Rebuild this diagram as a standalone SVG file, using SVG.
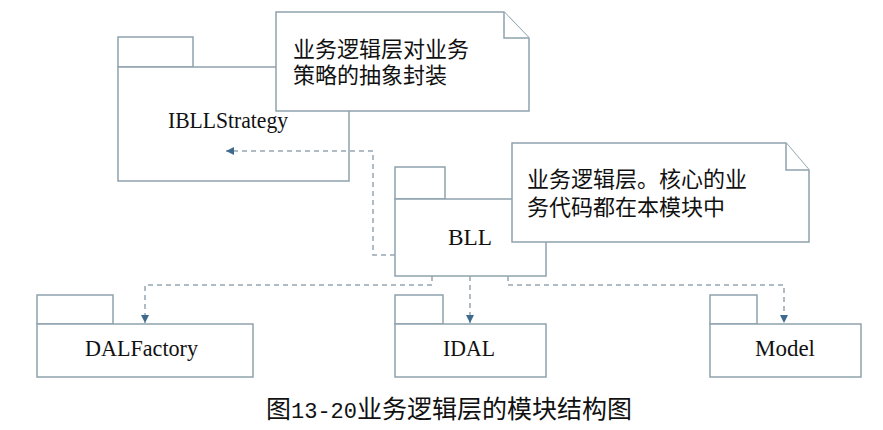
<svg xmlns="http://www.w3.org/2000/svg" width="883" height="430" viewBox="0 0 883 430">
<style>
.pk{fill:#ffffff;stroke:#8fa3ad;stroke-width:1.5}
.nt{fill:#ffffff;stroke:#8fa3ad;stroke-width:1.5}
.cn{fill:none;stroke:#97a6b2;stroke-width:1.5;stroke-dasharray:5 4}
.lb{font-family:"Liberation Serif","Times New Roman",serif;font-size:24px;fill:#111}
.zh{font-family:"Liberation Serif","Noto Sans CJK SC",sans-serif;font-size:22px;fill:#111}
.cap{font-family:"Noto Sans CJK SC",sans-serif;font-size:25px;fill:#111}
.mono{font-family:"Liberation Mono",monospace;font-size:22px}
</style>
<defs>
<marker id="ah" viewBox="0 0 10 10" refX="10" refY="5" markerWidth="8" markerHeight="8" markerUnits="userSpaceOnUse" orient="auto">
<path d="M0,0 L10,5 L0,10 z" fill="#3f6a8f"/>
</marker>
</defs>
<rect width="883" height="430" fill="#ffffff"/>

<g id="IBLLStrategy">
<rect class="pk" x="118" y="37" width="75" height="30"/>
<rect class="pk" x="118" y="67" width="231" height="114"/>
<text class="lb" x="168" y="128" textLength="120" lengthAdjust="spacingAndGlyphs">IBLLStrategy</text>
</g>

<g id="note1">
<path class="nt" d="M276,12 H504 L529,38 V111 H276 Z"/>
<path class="nt" d="M504,12 V38 H529" fill="none"/>
<text class="zh" x="293" y="57">业务逻辑层对业务</text>
<text class="zh" x="293" y="83">策略的抽象封装</text>
</g>

<g id="BLL">
<rect class="pk" x="395" y="167" width="50" height="32"/>
<rect class="pk" x="395" y="199" width="151" height="77"/>
<text class="lb" x="448" y="245" textLength="44" lengthAdjust="spacingAndGlyphs">BLL</text>
</g>

<g id="note2">
<path class="nt" d="M512,143 H786 L809,170 V242 H512 Z"/>
<path class="nt" d="M786,143 V170 H809" fill="none"/>
<text class="zh" x="527" y="187">业务逻辑层。核心的业</text>
<text class="zh" x="527" y="215">务代码都在本模块中</text>
</g>

<g id="DALFactory">
<rect class="pk" x="37" y="295" width="76" height="29"/>
<rect class="pk" x="37" y="324" width="216" height="53"/>
<text class="lb" x="85" y="356" textLength="113" lengthAdjust="spacingAndGlyphs">DALFactory</text>
</g>

<g id="IDAL">
<rect class="pk" x="395" y="295" width="48" height="29"/>
<rect class="pk" x="395" y="324" width="151" height="53"/>
<text class="lb" x="443" y="356" textLength="52" lengthAdjust="spacingAndGlyphs">IDAL</text>
</g>

<g id="Model">
<rect class="pk" x="710" y="295" width="47" height="29"/>
<rect class="pk" x="710" y="324" width="151" height="53"/>
<text class="lb" x="755" y="356" textLength="60" lengthAdjust="spacingAndGlyphs">Model</text>
</g>

<g id="connectors">
<path class="cn" d="M395,255 H373 V151 H226" marker-end="url(#ah)"/>
<path class="cn" d="M432,276 V285 H145 V323" marker-end="url(#ah)"/>
<path class="cn" d="M470,276 V323" marker-end="url(#ah)"/>
<path class="cn" d="M508,276 V285 H784 V323" marker-end="url(#ah)"/>
</g>

<text class="cap" x="266" y="418">图<tspan class="mono">13-20</tspan>业务逻辑层的模块结构图</text>
</svg>
